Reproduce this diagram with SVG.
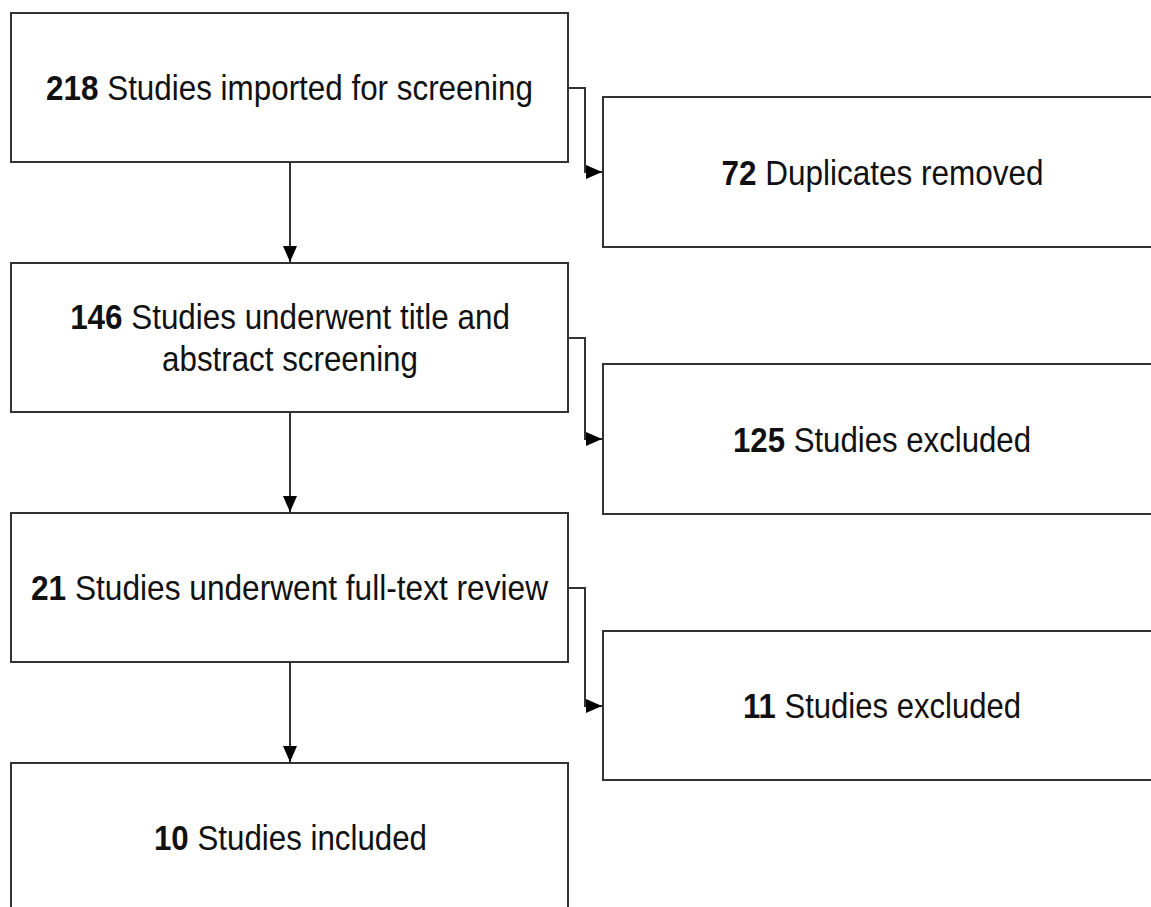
<svg xmlns="http://www.w3.org/2000/svg" width="1151" height="907" viewBox="0 0 1151 907">
  <style>
    .box { fill: #ffffff; stroke: #333333; stroke-width: 2; }
    .conn { fill: none; stroke: #333333; stroke-width: 2; }
    .lbl { font-family: "Liberation Sans", Arial, sans-serif; font-size: 35px; fill: #111111; text-anchor: middle; }
    .num { font-weight: bold; }
  </style>
  <defs>
    <marker id="arrow" markerUnits="userSpaceOnUse" markerWidth="16" markerHeight="14" refX="16" refY="7" orient="auto">
      <path d="M0,0 L16,7 L0,14 Z" fill="#000000"/>
    </marker>
  </defs>
  <rect width="1151" height="907" fill="#ffffff"/>

  <g id="connectors">
    <path class="conn" d="M290,162 L290,262" marker-end="url(#arrow)"/>
    <path class="conn" d="M290,412 L290,512" marker-end="url(#arrow)"/>
    <path class="conn" d="M290,662 L290,762" marker-end="url(#arrow)"/>
    <path class="conn" d="M568,88 L585,88 L585,172 L602,172" marker-end="url(#arrow)"/>
    <path class="conn" d="M568,338 L585,338 L585,439 L602,439" marker-end="url(#arrow)"/>
    <path class="conn" d="M568,588 L585,588 L585,706 L602,706" marker-end="url(#arrow)"/>
  </g>

  <g id="node-imported">
    <rect class="box" x="11" y="13" width="557" height="149"/>
    <text class="lbl" x="322.74" y="100.5" transform="scale(0.897,1)"><tspan class="num">218</tspan> Studies imported for screening</text>
  </g>

  <g id="node-duplicates">
    <rect class="box" x="603" y="97" width="570" height="150"/>
    <text class="lbl" x="980.49" y="185" transform="scale(0.9,1)"><tspan class="num">72</tspan> Duplicates removed</text>
  </g>

  <g id="node-title-abstract">
    <rect class="box" x="11" y="263" width="557" height="149"/>
    <text class="lbl" x="323.30" y="329" transform="scale(0.897,1)"><tspan class="num">146</tspan> Studies underwent title and</text>
    <text class="lbl" x="324.02" y="371" transform="scale(0.895,1)">abstract screening</text>
  </g>

  <g id="node-excluded-1">
    <rect class="box" x="603" y="364" width="570" height="150"/>
    <text class="lbl" x="989.90" y="452" transform="scale(0.891,1)"><tspan class="num">125</tspan> Studies excluded</text>
  </g>

  <g id="node-full-text">
    <rect class="box" x="11" y="513" width="557" height="149"/>
    <text class="lbl" x="320.24" y="600.5" transform="scale(0.904,1)"><tspan class="num">21</tspan> Studies underwent full-text review</text>
  </g>

  <g id="node-excluded-2">
    <rect class="box" x="603" y="631" width="570" height="149"/>
    <text class="lbl" x="993.24" y="718.5" transform="scale(0.888,1)"><tspan class="num">11</tspan> Studies excluded</text>
  </g>

  <g id="node-included">
    <rect class="box" x="11" y="763" width="557" height="160"/>
    <text class="lbl" x="324.94" y="850" transform="scale(0.894,1)"><tspan class="num">10</tspan> Studies included</text>
  </g>
</svg>
